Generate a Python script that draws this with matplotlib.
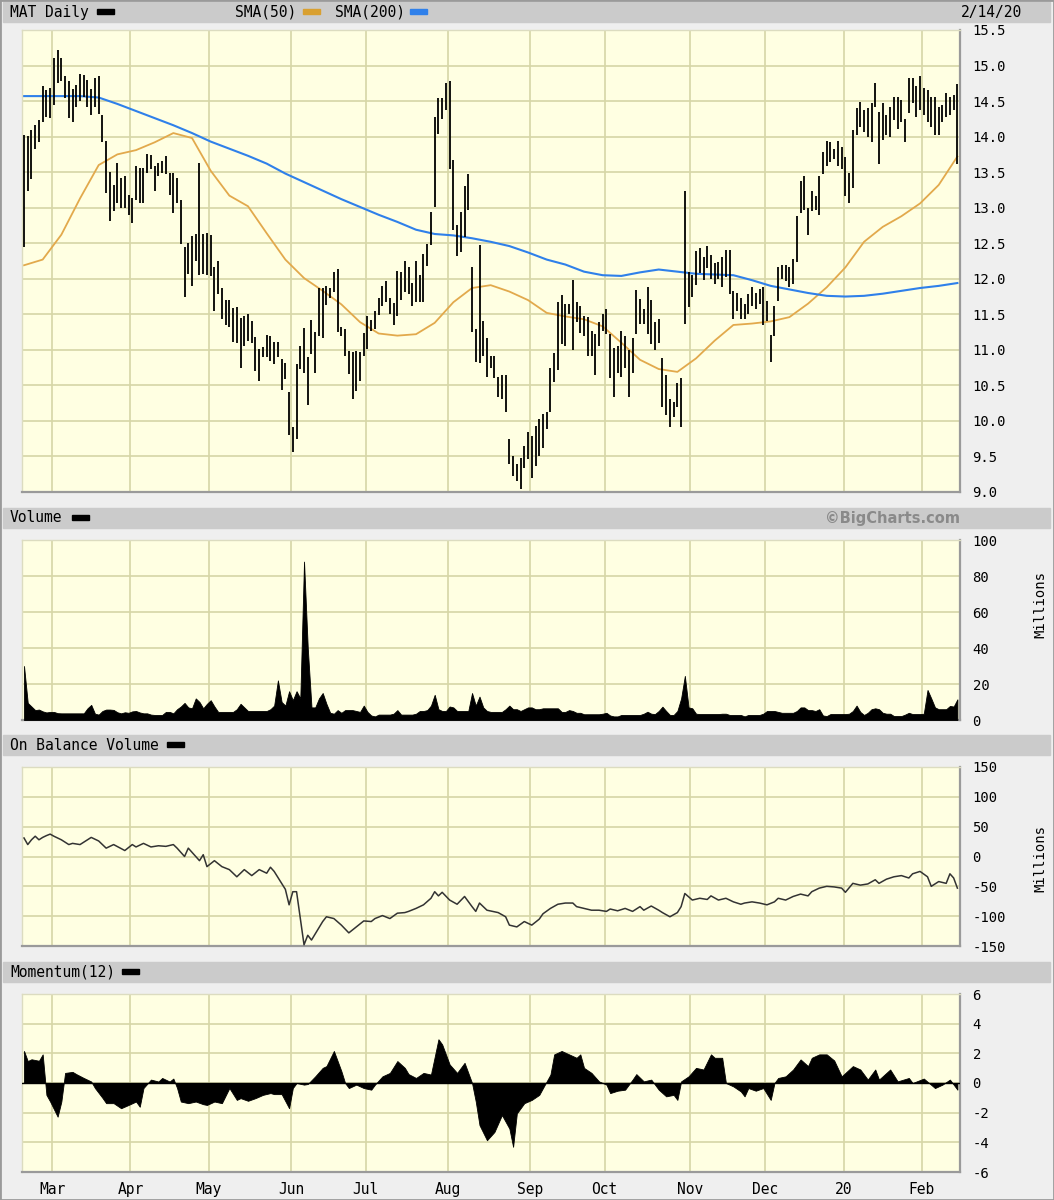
import numpy as np
import pandas as pd
import matplotlib
matplotlib.use("Agg")
import matplotlib.pyplot as plt
from matplotlib.patches import Rectangle

plt.rcParams['font.family'] = ['DejaVu Sans Mono', 'DejaVu Sans']

# trading days shown: 2019-02-19 .. 2020-02-14 (NYSE holidays removed)
holidays = ['2019-04-19', '2019-05-27', '2019-07-04', '2019-09-02',
            '2019-11-28', '2019-12-25', '2020-01-01', '2020-01-20']

high = [
    14.02, 14.01, 14.09, 14.17, 14.23, 14.71, 14.66, 14.69, 15.10, 15.22,
    15.11, 14.85, 14.78, 14.67, 14.73, 14.88, 14.87, 14.80, 14.67, 14.83,
    14.85, 14.31, 13.94, 13.50, 13.32, 13.63, 13.42, 13.44, 13.18, 13.13,
    13.59, 13.56, 13.56, 13.75, 13.74, 13.59, 13.63, 13.66, 13.73, 13.49,
    13.49, 13.42, 13.11, 12.44, 12.51, 12.60, 12.63, 13.63, 12.63, 12.64,
    12.61, 12.16, 12.25, 11.87, 11.70, 11.70, 11.59, 11.60, 11.45, 11.48,
    11.51, 11.40, 11.18, 11.01, 11.04, 11.21, 11.20, 11.11, 11.11, 10.87,
    10.82, 10.40, 9.92, 10.80, 11.06, 11.31, 10.90, 11.42, 11.25, 11.87,
    11.87, 11.90, 11.87, 12.09, 12.14, 11.32, 11.30, 10.99, 10.97, 10.99,
    10.97, 11.23, 11.47, 11.42, 11.54, 11.73, 11.90, 11.97, 11.73, 11.66,
    12.11, 12.09, 12.25, 12.16, 11.94, 12.25, 12.06, 12.35, 12.49, 12.94,
    14.28, 14.54, 14.54, 14.75, 14.78, 13.67, 12.75, 12.94, 13.30, 13.47,
    12.17, 11.30, 12.48, 11.40, 11.17, 10.91, 10.91, 10.62, 10.64, 10.64,
    9.75, 9.50, 9.39, 9.48, 9.65, 9.84, 9.79, 9.93, 10.03, 10.10,
    10.12, 10.74, 10.96, 11.67, 11.77, 11.65, 11.65, 11.98, 11.67, 11.62,
    11.48, 11.46, 11.27, 11.22, 11.39, 11.50, 11.58, 11.22, 11.03, 11.05,
    11.27, 11.20, 11.00, 11.17, 11.84, 11.72, 11.58, 11.88, 11.70, 11.39,
    11.43, 10.89, 10.65, 10.31, 10.27, 10.53, 10.60, 13.24, 12.10, 12.05,
    12.39, 12.43, 12.31, 12.46, 12.34, 12.22, 12.24, 12.30, 12.40, 12.40,
    11.83, 11.80, 11.73, 11.64, 11.78, 11.88, 11.80, 11.85, 11.88, 11.69,
    11.21, 11.62, 12.16, 12.19, 12.19, 12.16, 12.28, 12.88, 13.38, 13.45,
    13.00, 13.23, 13.16, 13.45, 13.78, 13.94, 13.92, 13.83, 13.94, 13.85,
    13.71, 13.49, 14.09, 14.40, 14.49, 14.37, 14.40, 14.47, 14.75, 14.35,
    14.47, 14.30, 14.42, 14.56, 14.56, 14.51, 14.25, 14.82, 14.82, 14.71,
    14.85, 14.68, 14.66, 14.56, 14.56, 14.42, 14.44, 14.61, 14.56, 14.59,
    14.74]

low = [
    12.44, 13.23, 13.40, 13.82, 13.93, 14.20, 14.27, 14.26, 14.44, 14.75,
    14.78, 14.54, 14.26, 14.20, 14.42, 14.50, 14.56, 14.42, 14.30, 14.42,
    14.32, 13.92, 13.20, 12.81, 12.96, 13.06, 12.99, 12.99, 12.90, 12.78,
    13.11, 13.06, 13.06, 13.49, 13.54, 13.23, 13.44, 13.49, 13.47, 13.18,
    12.93, 13.06, 12.49, 11.74, 12.07, 11.90, 12.25, 12.06, 12.07, 12.06,
    12.04, 11.55, 11.78, 11.44, 11.35, 11.32, 11.11, 11.09, 10.74, 11.06,
    11.12, 11.09, 10.70, 10.56, 10.90, 10.90, 10.85, 10.80, 10.90, 10.44,
    10.59, 9.80, 9.56, 9.75, 10.73, 10.68, 10.23, 10.94, 10.68, 11.20,
    11.17, 11.63, 11.73, 11.82, 11.25, 11.20, 10.92, 10.66, 10.31, 10.42,
    10.56, 10.92, 11.01, 11.26, 11.30, 11.49, 11.61, 11.68, 11.51, 11.35,
    11.47, 11.70, 11.82, 11.78, 11.61, 11.68, 11.68, 11.68, 12.18, 12.47,
    13.01, 14.04, 14.25, 14.37, 13.54, 12.68, 12.32, 12.37, 12.59, 12.97,
    11.25, 10.83, 10.81, 10.92, 10.62, 10.74, 10.60, 10.34, 10.31, 10.12,
    9.39, 9.22, 9.15, 9.04, 9.34, 9.46, 9.20, 9.36, 9.50, 9.62,
    9.89, 10.12, 10.55, 10.72, 11.08, 11.05, 11.50, 11.00, 11.39, 11.24,
    11.20, 10.91, 10.91, 10.65, 11.05, 11.27, 11.22, 10.60, 10.34, 10.67,
    10.62, 10.74, 10.34, 10.67, 11.22, 11.36, 11.36, 11.22, 11.08, 11.00,
    11.10, 10.20, 10.08, 9.91, 10.05, 10.20, 9.91, 11.36, 11.60, 11.74,
    11.91, 12.08, 11.98, 12.15, 12.00, 11.93, 12.00, 11.88, 12.02, 11.78,
    11.43, 11.55, 11.43, 11.43, 11.50, 11.62, 11.57, 11.64, 11.35, 11.41,
    10.83, 11.19, 11.69, 12.00, 11.97, 11.88, 11.93, 12.23, 12.93, 12.97,
    12.61, 12.95, 12.97, 12.90, 13.47, 13.59, 13.64, 13.68, 13.59, 13.54,
    13.16, 13.07, 13.28, 14.02, 14.13, 14.06, 13.99, 13.92, 14.42, 13.61,
    13.95, 14.02, 13.99, 14.23, 14.11, 14.21, 13.92, 14.33, 14.47, 14.28,
    14.37, 14.30, 14.21, 14.13, 14.02, 14.02, 14.21, 14.28, 14.30, 14.37,
    13.61]

# moving averages read every 5th trading day
sma_days = list(range(0, 251, 5))
sma50 = [12.19, 12.27, 12.62, 13.13, 13.60, 13.75, 13.81, 13.92, 14.05, 13.98,
         13.52, 13.17, 13.02, 12.64, 12.27, 12.01, 11.83, 11.64, 11.39, 11.23,
         11.20, 11.22, 11.38, 11.67, 11.87, 11.91, 11.82, 11.70, 11.52, 11.47,
         11.43, 11.33, 11.10, 10.86, 10.73, 10.69, 10.88, 11.13, 11.35, 11.37,
         11.40, 11.46, 11.65, 11.88, 12.16, 12.52, 12.73, 12.88, 13.06, 13.32,
         13.72]
sma200 = [14.57, 14.57, 14.57, 14.57, 14.55, 14.46, 14.36, 14.26, 14.16, 14.05,
          13.93, 13.83, 13.73, 13.62, 13.48, 13.36, 13.24, 13.12, 13.01, 12.90,
          12.80, 12.69, 12.63, 12.61, 12.57, 12.52, 12.46, 12.37, 12.27, 12.20,
          12.10, 12.05, 12.04, 12.09, 12.13, 12.10, 12.07, 12.06, 12.05, 11.98,
          11.90, 11.85, 11.80, 11.76, 11.75, 11.76, 11.79, 11.83, 11.87, 11.90,
          11.94]

# volume, millions of shares
volume = [
    30, 9.5, 7.5, 5.5, 5.8, 4.8, 4.2, 4.5, 4.5, 3.8,
    3.7, 3.7, 3.7, 3.7, 3.7, 3.7, 3.7, 6.5, 8.4, 3.5,
    3.0, 5.0, 5.8, 5.8, 5.6, 4.3, 3.7, 4.3, 4.0, 4.8,
    5.0, 4.2, 3.7, 3.7, 3.0, 2.8, 2.8, 2.8, 4.5, 4.5,
    3.7, 6.0, 7.5, 9.5, 7.0, 6.5, 12.0, 10.0, 6.5, 9.0,
    11.0, 7.5, 4.5, 4.5, 4.5, 4.5, 4.5, 6.0, 9.0, 7.0,
    5.0, 5.0, 5.0, 5.0, 5.0, 5.0, 6.0, 8.0, 22.0, 10.0,
    8.0, 16.0, 11.0, 16.0, 12.0, 88.0, 40.0, 7.0, 7.0, 12.0,
    15.0, 9.0, 4.0, 3.5, 5.5, 4.0, 5.5, 5.5, 5.5, 5.0,
    4.5, 8.0, 4.5, 2.5, 2.0, 3.0, 3.0, 3.0, 3.0, 3.5,
    5.5, 3.0, 3.0, 3.0, 3.0, 3.5, 5.0, 5.0, 5.5, 8.0,
    14.0, 6.0, 5.0, 5.0, 7.5, 7.0, 5.0, 5.0, 5.0, 5.0,
    15.0, 8.0, 13.0, 7.0, 5.0, 4.5, 4.5, 4.5, 4.5, 6.0,
    8.0, 6.0, 6.0, 5.0, 6.0, 7.0, 7.0, 6.0, 6.0, 6.5,
    6.5, 6.5, 6.5, 6.5, 4.5, 4.5, 5.5, 5.0, 4.0, 4.0,
    3.2, 3.2, 3.2, 3.2, 3.2, 3.5, 4.0, 2.5, 2.0, 2.0,
    2.8, 2.8, 2.8, 2.8, 2.8, 2.8, 3.5, 4.6, 3.5, 3.3,
    5.0, 7.4, 5.0, 2.8, 2.8, 5.0, 12.0, 24.5, 7.0, 6.5,
    3.5, 3.3, 3.3, 3.3, 3.3, 3.3, 3.3, 3.5, 3.5, 2.8,
    2.8, 2.8, 2.8, 2.0, 2.8, 2.8, 2.8, 2.8, 3.5, 5.0,
    5.0, 5.0, 4.5, 4.0, 4.0, 4.0, 4.0, 5.0, 7.0, 7.0,
    5.5, 5.5, 5.0, 6.0, 2.5, 2.2, 3.3, 3.3, 3.3, 3.3,
    3.3, 3.5, 5.0, 8.0, 4.5, 2.8, 4.0, 6.0, 6.5, 6.0,
    4.0, 3.5, 3.5, 2.2, 2.2, 2.2, 3.0, 4.0, 3.3, 3.3,
    3.3, 3.5, 16.7, 12.0, 7.0, 6.0, 6.0, 6.0, 7.8, 7.5,
    11.5]

# on balance volume (millions), read at these trading days
obv_days = [0, 1, 2, 3, 4, 5, 6, 7, 8, 10, 12, 13, 15, 18, 20, 22, 24, 27, 29, 30,
            32, 34, 36, 38, 40, 41, 43, 44, 45, 47, 48, 49, 51, 53, 55, 57, 59, 61, 63, 65,
            66, 67, 69, 70, 71, 72, 73, 75, 76, 77, 80, 81, 83, 85, 87, 89, 91, 93, 94, 96,
            98, 100, 102, 103, 105, 107, 109, 110, 111, 112, 114, 116, 118, 120, 121, 122, 124, 127, 129, 130,
            132, 134, 136, 138, 139, 141, 143, 145, 147, 148, 150, 152, 154, 156, 157, 159, 161, 163, 165, 166,
            168, 170, 171, 173, 175, 176, 177, 179, 181, 183, 184, 186, 188, 190, 192, 193, 195, 197, 199, 201,
            202, 204, 206, 208, 210, 211, 213, 215, 217, 219, 220, 222, 224, 226, 228, 229, 231, 233, 235, 237,
            238, 240, 242, 243, 245, 247, 248, 249, 250]
obv = [31, 20, 28, 34, 28, 32, 35, 37.5, 34, 28, 20, 22, 20, 32, 26, 14, 20, 10, 20, 16,
       22, 16, 18, 17, 20, 14, 0, 14, 7, -7, 3, -17, -7, -17, -22, -34, -22, -32, -22, -28,
       -18, -25, -45, -55, -81, -59, -59, -148, -132, -140, -109, -101, -104, -115, -128, -118, -108, -109, -104, -99,
       -104, -95, -94, -92, -87, -81, -70, -59, -66, -60, -73, -80, -67, -84, -92, -78, -90, -94, -101, -115,
       -118, -109, -115, -105, -96, -87, -80, -78, -78, -84, -87, -90, -90, -92, -88, -91, -87, -92, -84, -90,
       -83, -90, -94, -101, -94, -84, -62, -73, -70, -72, -66, -73, -70, -76, -80, -78, -76, -78, -81, -76,
       -70, -73, -67, -63, -66, -59, -53, -50, -51, -53, -60, -45, -48, -46, -39, -45, -38, -34, -32, -36,
       -29, -25, -34, -50, -42, -45, -29, -36, -53]

# momentum(12), read at these trading days
mom_days = [0, 1, 2, 4, 5, 6, 7, 9, 10, 11, 13, 14, 16, 18, 19, 21, 22, 24, 26, 28,
            30, 31, 32, 34, 36, 37, 39, 40, 41, 42, 44, 46, 48, 49, 51, 53, 55, 57, 58, 60,
            62, 64, 66, 67, 69, 71, 72, 73, 75, 76, 78, 80, 81, 83, 85, 86, 87, 89, 91, 93,
            94, 96, 98, 100, 102, 103, 105, 107, 109, 111, 112, 114, 116, 118, 120, 121, 122, 124, 126, 128,
            130, 131, 132, 134, 136, 138, 139, 141, 142, 144, 146, 148, 149, 150, 152, 154, 156, 157, 159, 161,
            163, 164, 166, 168, 170, 172, 174, 175, 176, 178, 180, 182, 184, 185, 187, 188, 190, 192, 193, 194,
            196, 198, 200, 201, 202, 204, 206, 208, 210, 211, 213, 215, 217, 219, 220, 222, 224, 226, 228, 229,
            232, 234, 237, 238, 241, 244, 246, 248, 250]
momentum = [2.16, 1.48, 1.6, 1.5, 1.93, -0.8, -1.25, -2.27, -1.25, 0.68, 0.75, 0.6, 0.34, 0.1, -0.34, -1.0, -1.36, -1.36, -1.7, -1.48,
            -1.25, -1.6, -0.34, 0.23, 0.1, 0.34, 0.1, 0.3, -0.34, -1.25, -1.36, -1.25, -1.43, -1.48, -1.25, -1.36, -0.34, -1.14, -1.02, -1.2,
            -1.02, -0.8, -0.68, -0.75, -0.75, -1.7, -0.34, 0.0, -0.11, -0.07, 0.45, 1.02, 1.14, 2.16, 0.8, 0.0, -0.34, -0.11, -0.34, -0.45,
            -0.11, 0.45, 0.68, 1.48, 1.02, 0.6, 0.34, 0.68, 0.57, 2.95, 2.6, 1.25, 0.68, 1.36, 0.0, -1.25, -2.84, -3.86, -3.3, -2.16,
            -3.07, -4.3, -2.05, -1.36, -1.14, -0.8, -0.34, 0.57, 1.93, 2.16, 1.93, 1.7, 1.93, 1.02, 0.68, 0.11, -0.11, -0.68, -0.52, -0.45,
            0.23, 0.6, 0.11, 0.23, -0.45, -0.9, -0.8, -1.14, 0.11, 0.45, 1.02, 0.91, 1.93, 1.7, 1.7, 0.0, -0.23, -0.57, -0.9, -0.34,
            -0.52, -0.34, -1.14, 0.0, 0.34, 0.45, 0.91, 1.59, 1.14, 1.7, 1.93, 1.93, 1.52, 0.45, 0.68, 1.14, 0.91, 0.23, 0.91, 0.23,
            0.91, 0.11, 0.34, 0.0, 0.3, -0.34, -0.11, 0.23, -0.45]

dates = pd.bdate_range('2019-02-19', '2020-02-14')
dates = dates[~dates.isin(pd.to_datetime(holidays))]
days = np.arange(len(dates))
month_idx = [i for i in range(1, len(dates)) if dates[i].month != dates[i - 1].month]
month_lbl = ['20' if dates[i].month == 1 else dates[i].strftime('%b') for i in month_idx]
month_x = [i - 0.5 for i in month_idx]

W, H = 1054, 1200
bg = '#efefef'
plot_bg = '#ffffe2'
grid_c = '#d6d6a6'
head_c = '#cbcbcb'
orange = '#e2a94c'
blue = '#2f80ea'

fig = plt.figure(figsize=(W / 100, H / 100), dpi=100, facecolor=bg)


def fx(px):
    return px / W


def fy(py):
    return 1 - py / H


def panel(top, bottom):
    return fig.add_axes([fx(22), fy(bottom), fx(938), (bottom - top) / H])


def header(top, label, swatch_x, swatch_c='black'):
    fig.patches.append(Rectangle((fx(3), fy(top + 20)), fx(1047), 20 / H,
                                 transform=fig.transFigure, color=head_c, zorder=0))
    fig.text(fx(10), fy(top + 10), label, fontsize=10.5, va='center', ha='left')
    fig.patches.append(Rectangle((fx(swatch_x), fy(top + 12)), fx(17), 5 / H,
                                 transform=fig.transFigure, color=swatch_c, zorder=1))


def style(ax, yticks, ylabels):
    ax.set_facecolor(plot_bg)
    ax.set_xlim(-0.54, 250.7)
    ax.set_xticks(month_x)
    ax.set_xticklabels([])
    ax.set_yticks(yticks)
    ax.set_yticklabels(ylabels)
    ax.yaxis.tick_right()
    ax.tick_params(length=0, labelsize=10, pad=9)
    ax.grid(True, color=grid_c, lw=1.2)
    ax.set_axisbelow(True)
    for s in ['top', 'left']:
        ax.spines[s].set_color('#dcdcc0')
        ax.spines[s].set_linewidth(1)
    for s in ['right', 'bottom']:
        ax.spines[s].set_color('#9a9a9a')
        ax.spines[s].set_linewidth(1.6)


# price panel
header(2, 'MAT Daily', 97)
fig.text(fx(235), fy(12), 'SMA(50)', fontsize=10.5, va='center')
fig.patches.append(Rectangle((fx(303), fy(14)), fx(17), 5 / H, transform=fig.transFigure, color='#d9a030'))
fig.text(fx(335), fy(12), 'SMA(200)', fontsize=10.5, va='center')
fig.patches.append(Rectangle((fx(410), fy(14)), fx(17), 5 / H, transform=fig.transFigure, color=blue))
fig.text(fx(1022), fy(12), '2/14/20', fontsize=10.5, va='center', ha='right')

ax1 = panel(30, 492)
ticks = np.arange(9.0, 15.51, 0.5)
style(ax1, ticks, ['%.1f' % t for t in ticks])
ax1.set_ylim(9.0, 15.5)
ax1.vlines(days, low, high, color='black', lw=1.3, zorder=3)
ax1.plot(sma_days, sma50, color=orange, lw=1.3, zorder=2)
ax1.plot(sma_days, sma200, color=blue, lw=1.5, zorder=2)

# volume panel
header(508, 'Volume', 72)
fig.text(fx(960), fy(518), '\u00a9BigCharts.com', fontsize=10.5, va='center', ha='right',
         color='#8a8a8a', fontweight='bold', family=['DejaVu Sans'])
ax2 = panel(540, 720)
style(ax2, [0, 20, 40, 60, 80, 100], ['0', '20', '40', '60', '80', '100'])
ax2.set_ylim(0, 100)
ax2.fill_between(days, 0, volume, color='black', lw=0.6, zorder=3)
fig.text(fx(1040), fy(604), 'Millions', fontsize=10, rotation=90, va='center', ha='center')

# on balance volume panel
header(735, 'On Balance Volume', 167)
ax3 = panel(767, 946)
obv_ticks = [-150, -100, -50, 0, 50, 100, 150]
style(ax3, obv_ticks, [str(t) for t in obv_ticks])
ax3.set_ylim(-150, 150)
ax3.plot(obv_days, obv, color='#333333', lw=1.1, zorder=3)
fig.text(fx(1040), fy(858), 'Millions', fontsize=10, rotation=90, va='center', ha='center')

# momentum panel
header(962, 'Momentum(12)', 122)
ax4 = panel(994, 1172)
mom_ticks = [-6, -4, -2, 0, 2, 4, 6]
style(ax4, mom_ticks, [str(t) for t in mom_ticks])
ax4.set_ylim(-6, 6)
ax4.fill_between(mom_days, 0, momentum, color='black', lw=0.6, zorder=3)
ax4.axhline(0, color='black', lw=1, zorder=3)
ax4.set_xticklabels(month_lbl)
ax4.tick_params(axis='x', labelsize=10.5, pad=7)

fig.patches.append(Rectangle((0, 0), 1, 1, transform=fig.transFigure, fill=False,
                             ec='#9a9a9a', lw=2))

fig.savefig('out.png', dpi=100, facecolor=bg)
